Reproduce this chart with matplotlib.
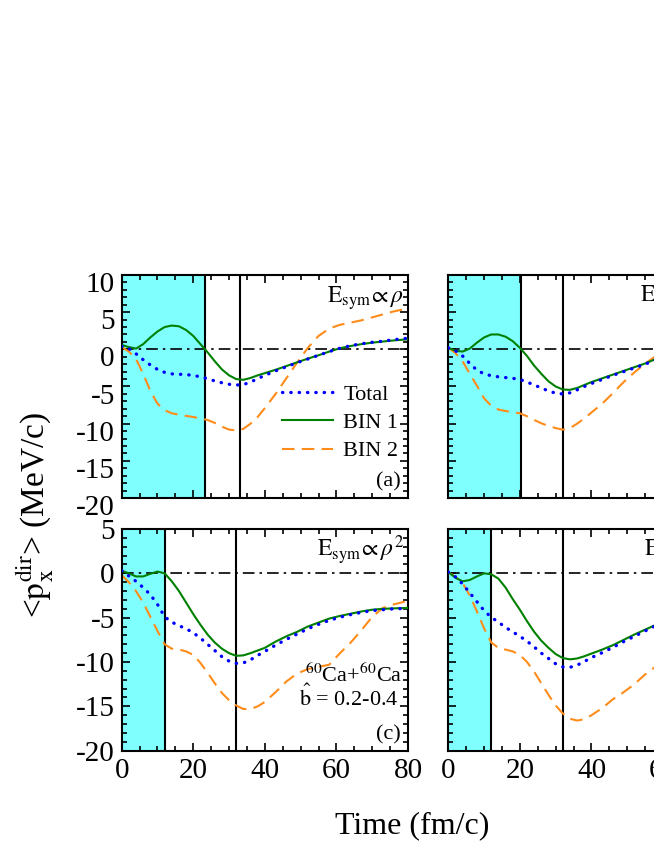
import numpy as np
import matplotlib
matplotlib.use('Agg')
import matplotlib.pyplot as plt
import matplotlib.transforms as mtransforms
from matplotlib.ticker import MultipleLocator

plt.rcParams['font.family'] = ['Liberation Serif', 'DejaVu Serif']
plt.rcParams['mathtext.fontset'] = 'stix'
plt.rcParams['axes.unicode_minus'] = False

# Time grid shared by all curves (fm/c)
time = [0, 2, 4, 6, 8, 10, 12, 14, 16, 18, 20, 22, 24, 26, 28, 30, 32, 34, 36, 38,
        40, 43, 46, 49, 52, 55, 58, 61, 64, 67, 70, 73, 76, 80]

# Panel (a): E_sym ~ rho
total_a = [0.4, 0.1, -0.6, -1.4, -2.1, -2.7, -3.1, -3.3, -3.35, -3.4, -3.5, -3.7, -3.95, -4.25,
           -4.5, -4.7, -4.8, -4.75, -4.4, -3.95, -3.5, -2.9, -2.35, -1.8, -1.3, -0.8, -0.3,
           0.15, 0.5, 0.75, 0.95, 1.1, 1.3, 1.5]
bin1_a = [0.6, 0.3, 0.1, 0.7, 1.6, 2.4, 3.0, 3.2, 3.1, 2.6, 1.8, 0.7, -0.4, -1.6, -2.7, -3.5,
          -4.0, -4.1, -3.85, -3.5, -3.2, -2.75, -2.25, -1.75, -1.25, -0.8, -0.3, 0.15, 0.45,
          0.7, 0.9, 1.05, 1.2, 1.35]
bin2_a = [0.3, -0.3, -1.3, -3.3, -5.6, -7.3, -8.2, -8.6, -8.8, -8.95, -9.1, -9.3, -9.5, -9.9,
          -10.4, -10.8, -10.9, -10.7, -10.0, -9.1, -7.9, -6.0, -3.9, -1.8, 0.2, 1.8, 2.8, 3.3,
          3.6, 3.9, 4.3, 4.7, 5.1, 5.5]

# Panel (b)
total_b = [0.2, -0.2, -0.9, -1.9, -2.8, -3.3, -3.55, -3.7, -3.8, -3.9, -4.05, -4.4, -4.8, -5.2,
           -5.6, -5.9, -6.0, -5.85, -5.45, -5.0, -4.6, -4.05, -3.5, -3.0, -2.5, -2.0, -1.4,
           -0.9, -0.5, -0.15, 0.15, 0.4, 0.6, 0.8]
bin1_b = [0.2, -0.2, -0.3, 0.1, 0.9, 1.6, 2.0, 2.0, 1.7, 1.1, 0.2, -0.9, -2.2, -3.3, -4.3, -5.0,
          -5.4, -5.45, -5.2, -4.8, -4.4, -3.9, -3.4, -2.9, -2.4, -1.9, -1.3, -0.8, -0.4,
          -0.05, 0.2, 0.4, 0.55, 0.7]
bin2_b = [0.2, -0.5, -1.6, -3.3, -4.9, -6.6, -7.6, -8.1, -8.3, -8.45, -8.6, -9.0, -9.5, -9.95,
          -10.3, -10.6, -10.8, -10.6, -10.0, -9.3, -8.5, -7.3, -5.9, -4.4, -3.1, -1.9, -0.9,
          0.1, 1.0, 1.8, 2.5, 3.1, 3.6, 4.1]

# Panel (c): E_sym ~ rho^2
total_c = [0.3, -0.3, -0.9, -1.6, -2.4, -3.5, -4.9, -5.5, -5.9, -6.25, -6.7, -7.3, -8.0, -8.7,
           -9.4, -9.9, -10.15, -10.1, -9.75, -9.25, -8.8, -8.1, -7.45, -6.85, -6.25, -5.75,
           -5.3, -4.95, -4.65, -4.4, -4.2, -4.1, -4.0, -3.95]
bin1_c = [0.3, 0.0, -0.35, -0.35, -0.05, 0.2, 0.0, -0.9, -2.0, -3.3, -4.6, -5.8, -6.9, -7.8,
          -8.5, -9.0, -9.3, -9.25, -9.0, -8.7, -8.4, -7.7, -7.1, -6.6, -6.0, -5.55, -5.1,
          -4.8, -4.55, -4.3, -4.1, -4.0, -3.95, -3.9]
bin2_c = [-0.2, -1.0, -2.0, -3.3, -4.9, -6.5, -8.0, -8.5, -8.6, -8.8, -9.2, -10.1, -11.2, -12.4,
          -13.5, -14.3, -14.9, -15.3, -15.3, -15.0, -14.5, -13.4, -12.2, -11.3, -10.8, -10.55,
          -10.3, -9.0, -7.8, -6.4, -4.9, -3.9, -3.5, -3.1]

# Panel (d)
total_d = [0.15, -0.4, -1.2, -2.2, -3.2, -4.2, -4.95, -5.5, -6.1, -6.6, -7.1, -7.65, -8.3, -9.0,
           -9.6, -10.2, -10.55, -10.6, -10.35, -9.95, -9.5, -8.95, -8.35, -7.7, -7.1, -6.5,
           -5.9, -5.4, -5.0, -4.65, -4.4, -4.2, -4.05, -3.95]
bin1_d = [0.15, -0.5, -0.9, -0.75, -0.35, 0.0, -0.1, -0.6, -1.6, -2.9, -4.1, -5.4, -6.6, -7.6,
          -8.4, -9.1, -9.55, -9.7, -9.6, -9.35, -9.05, -8.6, -8.1, -7.5, -6.9, -6.35, -5.8,
          -5.3, -4.9, -4.6, -4.35, -4.15, -4.0, -3.9]
bin2_d = [0.15, -0.4, -1.1, -2.5, -4.3, -6.2, -7.8, -8.4, -8.6, -8.8, -9.2, -10.0, -11.1, -12.4,
          -13.7, -14.9, -15.8, -16.4, -16.6, -16.45, -16.0, -15.2, -14.2, -13.4, -12.5, -11.4,
          -10.5, -9.5, -8.3, -7.0, -5.8, -4.7, -3.9, -3.3]

panel_tags = ['(a)', '(b)', '(c)', '(d)']
esym_labels = [r'$\mathrm{E}_{\mathrm{sym}}\!\propto\rho$',
               r'$\mathrm{E}_{\mathrm{sym}}\!\propto\rho^{1/2}$',
               r'$\mathrm{E}_{\mathrm{sym}}\!\propto\rho^{2}$',
               r'$\mathrm{E}_{\mathrm{sym}}\!\propto\rho^{3/2}$']
esym_x = [0.717, 0.67, 0.681, 0.683]
shade_end = [23.3, 20.3, 12.0, 12.0]
peak_time = [33.0, 32.0, 32.0, 32.0]
ylims = [(-20, 10), (-20, 10), (-20, 5), (-20, 5)]
curves = [(total_a, bin1_a, bin2_a), (total_b, bin1_b, bin2_b),
          (total_c, bin1_c, bin2_c), (total_d, bin1_d, bin2_d)]

fig = plt.figure(figsize=(6.54, 8.46), dpi=100)

# axes rectangles in figure fraction; right column runs past the figure edge (cropped)
W, H = 654.0, 846.0
rects = [(121.7, 275, 498), (448.3, 275, 498), (121.7, 529, 750.7), (448.3, 529, 750.7)]
axes = []
for (x0, top, bot) in rects:
    axes.append(fig.add_axes([x0 / W, 1 - bot / H, 286.3 / W, (bot - top) / H]))

for i, ax in enumerate(axes):
    tot, b1, b2 = curves[i]
    ax.axvspan(0, shade_end[i], color='#80FFFF', lw=0, zorder=0)
    ax.axvline(shade_end[i], color='black', lw=1.5, zorder=1)
    ax.axvline(peak_time[i], color='black', lw=1.5, zorder=1)
    ax.axhline(0, color='black', lw=1.2, linestyle=(0, (7, 3, 1.5, 3)), zorder=1)

    ax.plot(time, tot, color='#0000FF', lw=2.4, linestyle=(0, (0.1, 2.4)),
            dash_capstyle='round', label='Total', zorder=4)
    ax.plot(time, b1, color='#008000', lw=1.5, label='BIN 1', zorder=3)
    ax.plot(time, b2, color='#FF8C1A', lw=1.5, linestyle=(0, (6, 3.5)), label='BIN 2', zorder=2)

    ax.set_xlim(0, 80)
    ax.set_ylim(*ylims[i])
    ax.xaxis.set_major_locator(MultipleLocator(20))
    ax.xaxis.set_minor_locator(MultipleLocator(5))
    ax.yaxis.set_major_locator(MultipleLocator(5))
    ax.yaxis.set_minor_locator(MultipleLocator(1))
    ax.tick_params(which='both', direction='in', top=True, right=True, width=1.2,
                   labelsize=21, pad=5)
    ax.tick_params(which='major', length=6)
    ax.tick_params(which='minor', length=3.5)
    for sp in ax.spines.values():
        sp.set_linewidth(1.5)

    ax.text(esym_x[i], 0.874, esym_labels[i], transform=ax.transAxes,
            ha='left', va='baseline', fontsize=17)
    ax.text(0.975, 0.05, panel_tags[i], transform=ax.transAxes,
            ha='right', va='baseline', fontsize=16)

# only outer tick labels
axes[0].tick_params(labelbottom=False)
axes[1].tick_params(labelbottom=False, labelleft=False)
axes[3].tick_params(labelleft=False)

# upper-left panel labels sit a little low in the original
offset = mtransforms.ScaledTranslation(0, -7 / 100.0, fig.dpi_scale_trans)
for lab in axes[0].get_yticklabels():
    lab.set_transform(lab.get_transform() + offset)

axes[0].legend(loc='upper left', bbox_to_anchor=(0.56, 0.51), frameon=False, fontsize=16,
               handlelength=2.3, handletextpad=0.45, labelspacing=0.35,
               borderpad=0, borderaxespad=0)

axes[2].text(0.98, 0.31, r'$^{60}$Ca+$^{60}$Ca', transform=axes[2].transAxes,
             ha='right', va='baseline', fontsize=16)
axes[2].text(0.965, 0.2, r'$\hat{\mathrm{b}}$ = 0.2-0.4', transform=axes[2].transAxes,
             ha='right', va='baseline', fontsize=16)

fig.text(35 / W, 1 - 515 / H, r'<$\mathrm{p}_{\mathrm{x}}^{\mathrm{dir}}$> (MeV/c)', rotation=90,
         ha='center', va='center', fontsize=24)
fig.text(412 / W, 1 - 826 / H, 'Time (fm/c)', ha='center', va='center', fontsize=23)

fig.savefig('out.png', dpi=100)
